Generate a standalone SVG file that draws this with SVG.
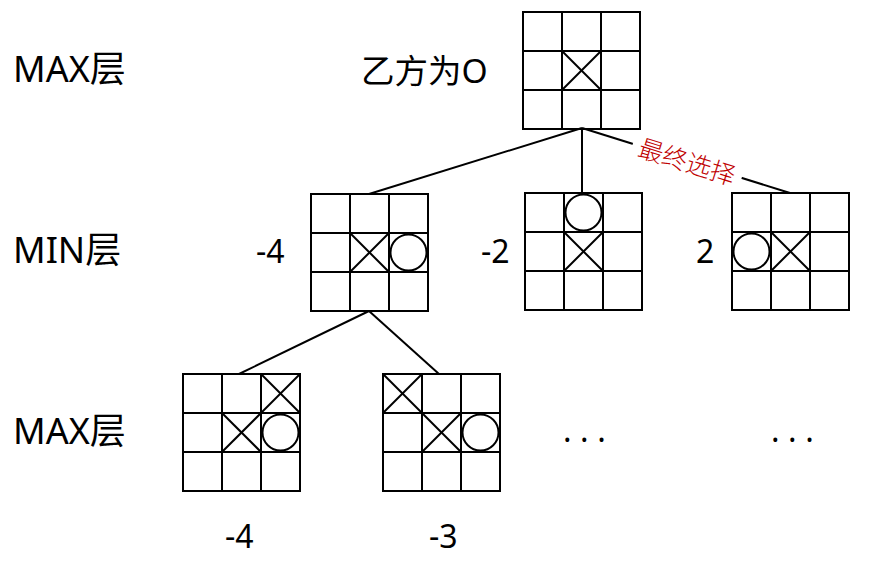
<svg xmlns="http://www.w3.org/2000/svg" xmlns:xlink="http://www.w3.org/1999/xlink" width="877" height="581" viewBox="0 0 877 581">
<style>
.ln{stroke:#000;stroke-width:2;fill:none}
.t{font-family:"Noto Sans","Noto Sans CJK SC",sans-serif;fill:#000}
.lab{font-size:36px}
.num{font-size:32px}
.red{font-family:"Noto Sans CJK SC",sans-serif;font-size:25px;font-weight:300;fill:#c00000}
</style>
<defs>
<g id="grid" class="ln">
<rect x="0" y="0" width="117" height="117"/>
<line x1="39" y1="0" x2="39" y2="117"/>
<line x1="78" y1="0" x2="78" y2="117"/>
<line x1="0" y1="39" x2="117" y2="39"/>
<line x1="0" y1="78" x2="117" y2="78"/>
</g>
<g id="X" class="ln">
<line x1="0" y1="0" x2="39" y2="39"/>
<line x1="39" y1="0" x2="0" y2="39"/>
</g>
<circle id="O" class="ln" cx="19.5" cy="19.5" r="18"/>
</defs>
<rect width="877" height="581" fill="#fff"/>

<g id="connectors" class="ln">
<line x1="582" y1="128" x2="369" y2="194"/>
<line x1="582" y1="128" x2="582" y2="193"/>
<line x1="582" y1="128" x2="790" y2="193"/>
<line x1="369" y1="311" x2="239" y2="374"/>
<line x1="369" y1="311" x2="439" y2="374"/>
</g>
<g id="choice-label" transform="translate(687.5,160) rotate(17.3)">
<rect x="-57" y="-15" width="114" height="30" fill="#fff"/>
<text class="red" x="0" y="0" text-anchor="middle" dominant-baseline="central">最终选择</text>
</g>

<g id="root" transform="translate(523,12)">
<use xlink:href="#grid"/>
<use xlink:href="#X" x="39" y="39"/>
</g>
<g id="min1" transform="translate(311,194)">
<use xlink:href="#grid"/>
<use xlink:href="#X" x="39" y="39"/>
<use xlink:href="#O" x="78" y="39"/>
</g>
<g id="min2" transform="translate(525,193)">
<use xlink:href="#grid"/>
<use xlink:href="#O" x="39" y="0"/>
<use xlink:href="#X" x="39" y="39"/>
</g>
<g id="min3" transform="translate(732,193)">
<use xlink:href="#grid"/>
<use xlink:href="#O" x="0" y="39"/>
<use xlink:href="#X" x="39" y="39"/>
</g>
<g id="max1" transform="translate(183,374)">
<use xlink:href="#grid"/>
<use xlink:href="#X" x="78" y="0"/>
<use xlink:href="#X" x="39" y="39"/>
<use xlink:href="#O" x="78" y="39"/>
</g>
<g id="max2" transform="translate(383,374)">
<use xlink:href="#grid"/>
<use xlink:href="#X" x="0" y="0"/>
<use xlink:href="#X" x="39" y="39"/>
<use xlink:href="#O" x="78" y="39"/>
</g>

<g id="labels">
<text class="t lab" x="13" y="82">MAX层</text>
<text class="t lab" x="13" y="263">MIN层</text>
<text class="t lab" x="13" y="444">MAX层</text>
<text class="t" font-size="33.5" x="361" y="83">乙方为O</text>
<text class="t num" x="256" y="263">-4</text>
<text class="t num" x="481" y="263">-2</text>
<text class="t num" x="696" y="263">2</text>
<text class="t num" x="225" y="548">-4</text>
<text class="t num" x="429" y="548">-3</text>
<text class="t num" x="563" y="442" letter-spacing="8.5">...</text>
<text class="t num" x="771" y="442" letter-spacing="8.5">...</text>
</g>
</svg>
